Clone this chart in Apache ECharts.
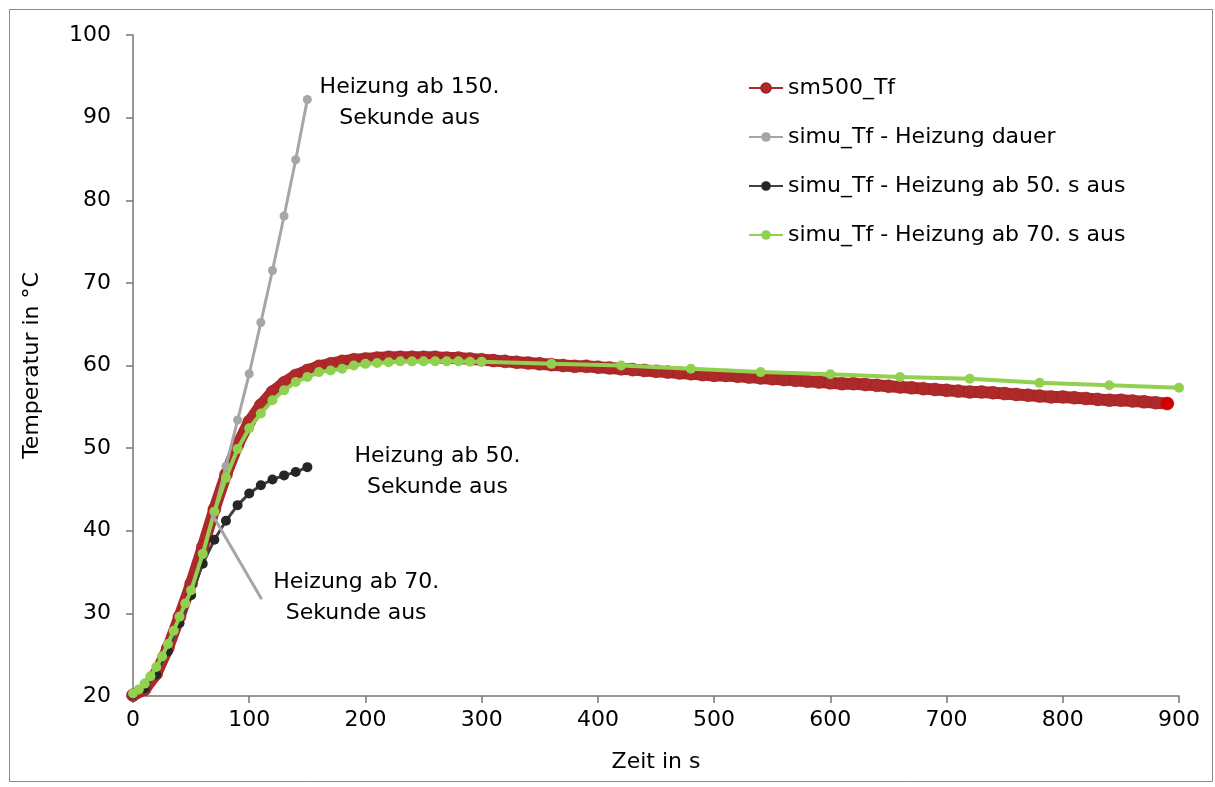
<!DOCTYPE html>
<html><head><meta charset="utf-8">
<script src="https://cdn.jsdelivr.net/npm/echarts@6/dist/echarts.min.js"></script>
<style>html,body{margin:0;padding:0;background:#fff}#c{width:1215px;height:787px}</style>
</head><body><div id="c"></div>
<script>
// ---- data (time in s, temperature in °C) ----
const seriesNames = ['sm500_Tf', 'simu_Tf - Heizung dauer', 'simu_Tf - Heizung ab 50. s aus', 'simu_Tf - Heizung ab 70. s aus'];

const sm500 = [[0,20.1],[10,20.8],[20,22.7],[30,25.8],[40,29.6],[50,33.6],[60,38.0],[70,42.6],[80,46.8],[90,50.4],
 [100,53.2],[110,55.2],[120,56.8],[130,57.9],[140,58.8],[150,59.4],[160,59.9],[170,60.2],[180,60.5],[190,60.7],
 [200,60.8],[210,60.9],[220,61.0],[230,61.0],[240,61.0],[250,61.0],[260,61.0],[270,60.9],[280,60.9],[290,60.8],
 [300,60.7],[310,60.6],[320,60.5],[330,60.4],[340,60.3],[350,60.2],[360,60.1],[370,60.0],[380,59.9],[390,59.9],
 [400,59.8],[410,59.7],[420,59.6],[430,59.5],[440,59.4],[450,59.3],[460,59.2],[470,59.1],[480,59.0],[490,58.9],
 [500,58.8],[510,58.8],[520,58.7],[530,58.6],[540,58.5],[550,58.4],[560,58.3],[570,58.2],[580,58.1],[590,58.0],
 [600,57.9],[610,57.8],[620,57.8],[630,57.7],[640,57.6],[650,57.5],[660,57.4],[670,57.3],[680,57.2],[690,57.1],
 [700,57.0],[710,56.9],[720,56.8],[730,56.8],[740,56.7],[750,56.6],[760,56.5],[770,56.4],[780,56.3],[790,56.2],
 [800,56.2],[810,56.1],[820,56.0],[830,55.9],[840,55.8],[850,55.8],[860,55.7],[870,55.6],[880,55.5],[890,55.4]];

const heizDauer = [[0,20.2],[10,20.9],[20,22.6],[30,25.4],[40,28.8],[50,32.4],[60,37.2],[70,42.3],[80,47.8],[90,53.4],
 [100,59.0],[110,65.2],[120,71.5],[130,78.1],[140,84.9],[150,92.2]];

const heizAb50 = [[0,20.2],[10,20.9],[20,22.6],[30,25.4],[40,28.8],[50,32.2],[60,36.0],[70,38.9],[80,41.2],[90,43.1],
 [100,44.5],[110,45.5],[120,46.2],[130,46.7],[140,47.1],[150,47.7]];

const heizAb70 = [[0,20.3],[5,20.8],[10,21.5],[15,22.4],[20,23.5],[25,24.8],[30,26.3],[35,27.9],[40,29.6],[45,31.2],[50,32.8],
 [60,37.2],[70,42.3],[80,46.4],[90,49.9],[100,52.4],[110,54.2],[120,55.8],[130,57.0],[140,58.0],[150,58.6],
 [160,59.2],[170,59.4],[180,59.6],[190,60.0],[200,60.2],[210,60.3],[220,60.4],[230,60.5],[240,60.5],[250,60.5],
 [260,60.5],[270,60.5],[280,60.5],[290,60.45],[300,60.45],[360,60.2],[420,60.0],[480,59.6],[540,59.2],[600,58.95],
 [660,58.6],[720,58.4],[780,57.9],[840,57.6],[900,57.3]];

// annotations: [time, temperature, text]
const annotations = [
  [238, 91.8, 'Heizung ab 150.\nSekunde aus'],
  [262, 47.1, 'Heizung ab 50.\nSekunde aus'],
  [192, 31.9, 'Heizung ab 70.\nSekunde aus']
];
const leader70 = [[67.7, 42.1], [110.7, 31.7]];

const xMin = 0, xMax = 900, xStep = 100;
const yMin = 20, yMax = 100, yStep = 10;

// ---- chart ----
const FONT = 'DejaVu Sans';
const chart = echarts.init(document.getElementById('c'), null, {renderer: 'canvas'});
const redData = sm500.map((p, i) => i === sm500.length - 1
  ? {value: p, itemStyle: {color: '#D00000', borderColor: '#D00000'}} : {value: p});

chart.setOption({
  animation: false,
  backgroundColor: '#ffffff',
  textStyle: {fontFamily: FONT},
  graphic: [{type: 'rect', shape: {x: 9.5, y: 9.5, width: 1203, height: 772},
    style: {fill: 'none', stroke: '#8a8a8a', lineWidth: 1}, z: 100, silent: true}],
  grid: {left: 133, right: 36, top: 35, bottom: 91, containLabel: false},
  legend: {
    data: seriesNames, orient: 'vertical', left: 743, top: 70,
    itemWidth: 34, itemHeight: 12, itemGap: 23,
    textStyle: {fontFamily: FONT, fontSize: 22, color: '#000', lineHeight: 26}
  },
  xAxis: {
    type: 'value', min: xMin, max: xMax, interval: xStep,
    name: 'Zeit in s', nameLocation: 'middle', nameGap: 55,
    nameTextStyle: {fontFamily: FONT, fontSize: 22, color: '#000'},
    axisLine: {show: true, lineStyle: {color: '#767676', width: 1.5}},
    axisTick: {show: true, inside: false, length: 7, lineStyle: {color: '#767676', width: 1.5}},
    axisLabel: {fontFamily: FONT, fontSize: 22, color: '#000', margin: 13},
    splitLine: {show: false}
  },
  yAxis: {
    type: 'value', min: yMin, max: yMax, interval: yStep,
    name: 'Temperatur in °C', nameLocation: 'middle', nameGap: 90, nameRotate: 90,
    nameTextStyle: {fontFamily: FONT, fontSize: 22, color: '#000'},
    axisLine: {show: true, onZero: false, lineStyle: {color: '#767676', width: 1.5}},
    axisTick: {show: true, inside: false, length: 7, lineStyle: {color: '#767676', width: 1.5}},
    axisLabel: {fontFamily: FONT, fontSize: 22, color: '#000', margin: 22},
    splitLine: {show: false}
  },
  series: [
    {name: seriesNames[0], type: 'line', data: redData, showAllSymbol: true,
     symbol: 'circle', symbolSize: 13,
     lineStyle: {color: '#AE2A2A', width: 12},
     itemStyle: {color: '#AE2A2A', borderColor: '#9E2020', borderWidth: 0.5}, z: 2},
    {name: seriesNames[1], type: 'line', data: heizDauer, showAllSymbol: true,
     symbol: 'circle', symbolSize: 9,
     lineStyle: {color: '#A6A6A6', width: 3}, itemStyle: {color: '#A6A6A6'}, z: 3},
    {name: seriesNames[2], type: 'line', data: heizAb50, showAllSymbol: true,
     symbol: 'circle', symbolSize: 10,
     lineStyle: {color: '#404040', width: 3}, itemStyle: {color: '#262626'}, z: 4},
    {name: seriesNames[3], type: 'line', data: heizAb70, showAllSymbol: true,
     symbol: 'circle', symbolSize: 10,
     lineStyle: {color: '#92D050', width: 4}, itemStyle: {color: '#92D050'}, z: 5},
    {name: 'leader', type: 'line', data: leader70, symbol: 'none', silent: true,
     lineStyle: {color: '#A6A6A6', width: 3}, z: 6},
    {name: 'annot', type: 'scatter', silent: true, symbolSize: 1,
     itemStyle: {color: 'rgba(0,0,0,0)', opacity: 1},
     data: annotations.map(a => ({value: [a[0], a[1]], name: a[2]})),
     label: {show: true, position: 'inside', formatter: p => p.name, opacity: 1,
       fontFamily: FONT, fontSize: 22, lineHeight: 31, color: '#000000', align: 'center', verticalAlign: 'middle'},
     z: 7}
  ]
});
</script>
</body></html>
